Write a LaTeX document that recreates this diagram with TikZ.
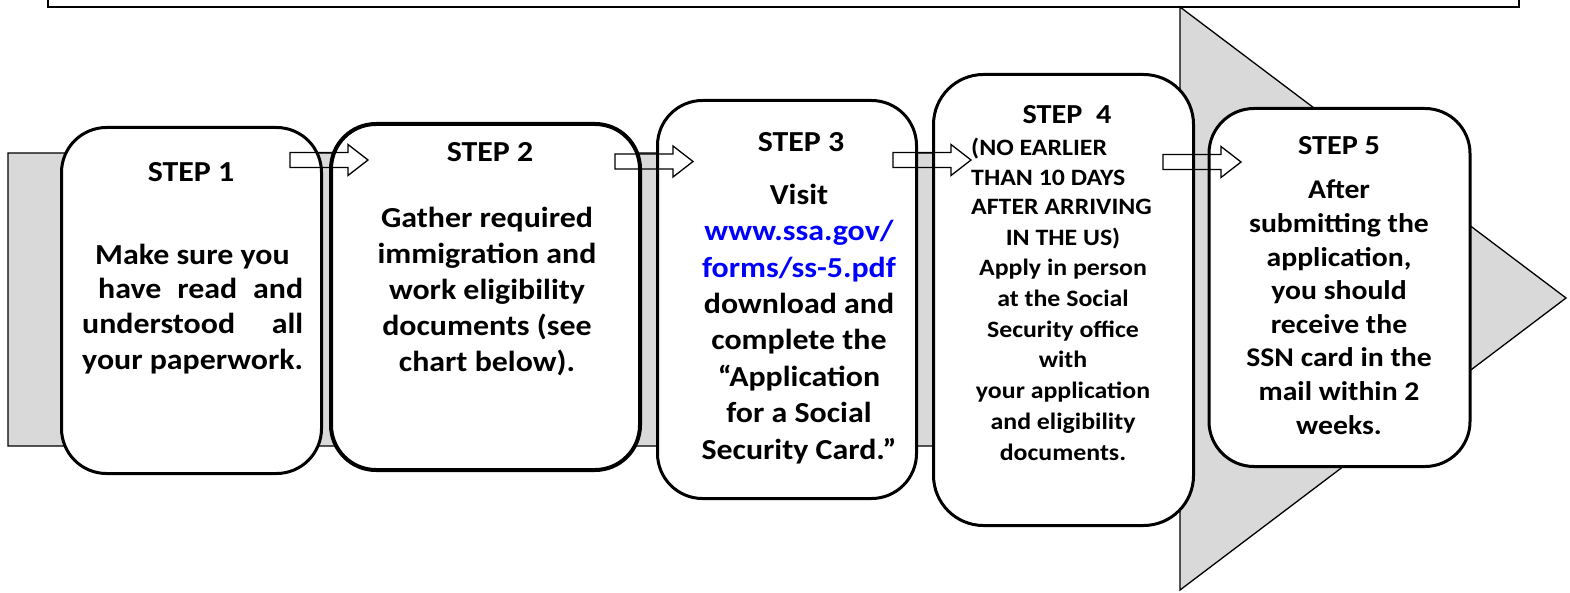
\documentclass[tikz,border=0pt]{standalone}
\usepackage{fontspec}
\setmainfont{Carlito}[FakeStretch=1.1]
\definecolor{arrowgray}{HTML}{D9D9D9}
\definecolor{linkblue}{HTML}{0000FF}
\tikzset{
  stepbox/.style={draw, fill=white, rounded corners=45pt, line width=3pt, inner sep=0pt},
  steptitle/.style={font=\fontsize{#1}{#1}\selectfont\bfseries, anchor=base, inner sep=0pt},
  steptext/.style={font=\fontsize{29}{#1}\selectfont\bfseries, align=center, anchor=base, inner sep=0pt},
  hollowarrow/.style={draw, line width=1.3pt, line join=miter},
}
\begin{document}
\begin{tikzpicture}[x=1pt,y=-1pt]
	\useasboundingbox (0,0) rectangle (1570,593);
	% frame above (only its lower edge shows)
	\draw[line width=1.3pt] (48,-2) -- (48,7) -- (1519,7) -- (1519,-2);
	% big grey arrow behind the steps
	\draw[fill=arrowgray, line width=1.3pt] (8,153) -- (1180,153) -- (1180,7) -- (1566,298)
		-- (1180,590) -- (1180,446) -- (8,446) -- cycle;
	% step boxes
	\node[stepbox, minimum width=260pt, minimum height=346pt] (s1) at (191.5,300.5) {};
	\node[stepbox, line width=4pt, minimum width=309pt, minimum height=346pt] (s2) at (485.5,297) {};
	\node[stepbox, minimum width=259pt, minimum height=398pt] (s3) at (787,299.5) {};
	\node[stepbox, rounded corners=50pt, minimum width=260pt, minimum height=451pt] (s4) at (1063.5,300) {};
	\node[stepbox, minimum width=261pt, minimum height=358pt] (s5) at (1339.5,287.5) {};
	% step 1 (multi-line nodes sit on their last baseline)
	\node[steptitle=29] (h1) at (191,182) {STEP 1};
	\node[steptext=35, align=left, anchor=base west] (d1) at (82,369)
		{\hspace*{13pt}Make sure you\\
		 \hspace*{16pt}\makebox[205pt][s]{have read and}\\
		 \makebox[221pt][s]{understood all}\\
		 your paperwork.};
	% step 2
	\node[steptitle=29] (h2) at (490,162) {STEP 2};
	\node[steptext=36] (d2) at (487,371)
		{Gather required\\ immigration and\\ work eligibility\\ documents (see\\ chart below).};
	% step 3
	\node[steptitle=29] (h3) at (801,152) {STEP 3};
	\node[steptext=36.4] (d3) at (799,459)
		{Visit\\ \textcolor{linkblue}{www.ssa.gov/}\\ \textcolor{linkblue}{forms/ss-5.pdf}\\
		 download and\\ complete the\\ “Application\\ for a Social\\ Security Card.”};
	% step 4
	\node[steptitle=27.5] (h4) at (1067,124) {STEP\ \ 4};
	\node[steptext=29.5, font=\fontsize{23.5}{29.5}\selectfont\bfseries, align=left, anchor=base west]
		(d4a) at (971,215) {(NO EARLIER\\ THAN 10 DAYS\\ AFTER ARRIVING};
	\node[steptext=30.7, font=\fontsize{23.5}{30.7}\selectfont\bfseries] (d4b) at (1063,460)
		{IN THE US)\\ Apply in person\\ at the Social\\ Security office\\ with\\
		 your application\\ and eligibility\\ documents.};
	% step 5
	\node[steptitle=27.5] (h5) at (1339,155) {STEP 5};
	\node[steptext=33.6, font=\fontsize{27}{33.6}\selectfont\bfseries] (d5) at (1339,434)
		{After\\ submitting the\\ application,\\ you should\\ receive the\\
		 SSN card in the\\ mail within 2\\ weeks.};
	% small hollow arrows between the steps
	\foreach \x/\y in {290/160, 615/161.5, 893/160, 1163/162}
		\draw[hollowarrow] (\x,\y-7.5) -- ++(58,0) -- ++(0,-8) -- ++(20,15.5)
			-- ++(-20,15.5) -- ++(0,-8) -- ++(-58,0) -- cycle;
\end{tikzpicture}
\end{document}
